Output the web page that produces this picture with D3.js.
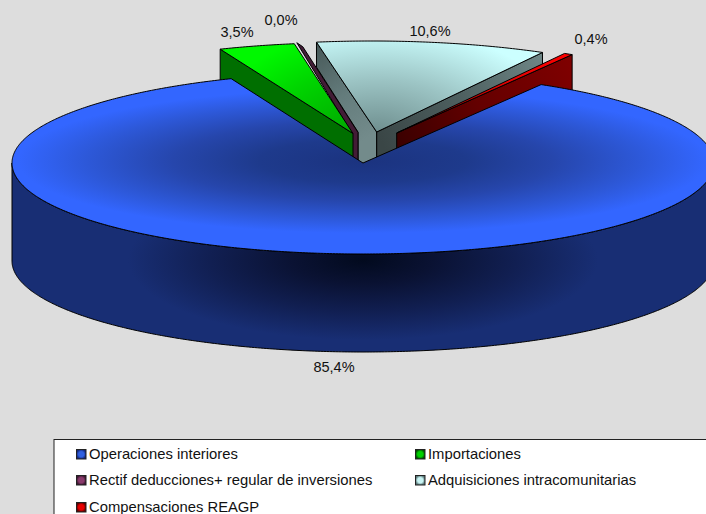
<!DOCTYPE html>
<html><head><meta charset="utf-8">
<script src="https://cdn.jsdelivr.net/npm/d3@7/dist/d3.min.js"></script>
<style>html,body{margin:0;padding:0;background:#ddd}svg{display:block}text{font-family:"Liberation Sans",Arial,sans-serif;fill:#111}</style>
</head><body><div id="chart"></div>
<script>
const categories = ["Operaciones interiores","Importaciones","Rectif deducciones+ regular de inversiones","Adquisiciones intracomunitarias","Compensaciones REAGP"];
const values = [85.4,3.5,0.1,10.6,0.4];
const valueLabels = ["85,4%","3,5%","0,0%","10,6%","0,4%"];

const W=706,H=514,cx=363,cy=163,rx=351,ry=91,depth=98;
const explode=[[0,0],[-11,-29.5],[-8.5,-30.5],[9,-31],[31,-30]];
const apexShift=[0,1,0,4.7,2.7];
const labelPos=[[334,368],[237,33],[281,21],[430,32],[591,40]];
const rad=Math.PI/180;

const svg=d3.select("#chart").append("svg").attr("width",W).attr("height",H);
const defs=svg.append("defs");
svg.append("rect").attr("width",W).attr("height",H).attr("fill","#dddddd");

const arcs=d3.pie().sort(null).value(d=>d).startAngle(30.5*rad).endAngle(390.5*rad)(values);
const pt=(a,i=0,dz=0)=>[cx+explode[i][0]+rx*Math.sin(a),cy+explode[i][1]-ry*Math.cos(a)+dz];
const apex=(i,dz=0)=>[cx+explode[i][0]+apexShift[i],cy+explode[i][1]+dz];
const rim=(a0,a1,i=0,dz=0)=>{const n=Math.max(2,Math.ceil(Math.abs(a1-a0)/(0.5*rad)));return d3.range(n+1).map(k=>pt(a0+(a1-a0)*k/n,i,dz));};
const line=d3.line();
const closed=p=>line(p)+"Z";

function radial(id,c,rX,rY,stops){
  const g=defs.append("radialGradient").attr("id",id).attr("gradientUnits","userSpaceOnUse")
    .attr("cx",0).attr("cy",0).attr("r",1)
    .attr("gradientTransform",`translate(${c[0]},${c[1]}) scale(${rX},${rY})`);
  stops.forEach(s=>g.append("stop").attr("offset",s[0]).attr("stop-color",s[1]));
  return `url(#${id})`;
}
function linear(id,a,b,stops){
  const g=defs.append("linearGradient").attr("id",id).attr("gradientUnits","userSpaceOnUse")
    .attr("x1",a[0]).attr("y1",a[1]).attr("x2",b[0]).attr("y2",b[1]);
  stops.forEach(s=>g.append("stop").attr("offset",s[0]).attr("stop-color",s[1]));
  return `url(#${id})`;
}
const draw=(d,fill)=>svg.append("path").attr("d",d).attr("fill",fill).attr("stroke","#000").attr("stroke-width",1).attr("stroke-linejoin","round");

/* Adquisiciones (index 3) */
{
  const i=3,a=arcs[i],A=apex(i),R0=pt(a.startAngle,i),R1=pt(a.endAngle,i);
  const notchX=cx-5;
  draw(closed([R0,[R0[0],R0[1]+25],[notchX,A[1]],[notchX,A[1]+depth],apex(i,depth),A]),
    linear("gwl",R0,A,[[0,"#465757"],[0.55,"#647c7c"],[1,"#738b8b"]]));
  draw(closed([A,R1,pt(a.endAngle,i,depth),apex(i,depth)]),
    linear("gwr",A,R1,[[0,"#3a4646"],[0.5,"#4e6060"],[1,"#6f8787"]]));
  draw(closed([A,...rim(a.startAngle,a.endAngle,i)]),
    radial("gtop",A,190,105,[[0,"#6f8f8f"],[0.5,"#9cc4c4"],[1,"#ccffff"]]));
}
/* Compensaciones (index 4) */
{
  const i=4,a=arcs[i],A=apex(i),R1=pt(a.endAngle,i);
  draw(closed([A,R1,pt(a.endAngle,i,depth),apex(i,depth)]),
    linear("rw",A,R1,[[0,"#3c0000"],[0.45,"#640000"],[1,"#800000"]]));
  draw(closed([A,...rim(a.startAngle,a.endAngle,i)]),
    linear("rt",A,R1,[[0,"#800000"],[0.6,"#e00000"],[1,"#ff0000"]]));
}
/* Rectif (index 2) */
{
  const i=2,a=arcs[i],A=apex(i),R=pt(a.startAngle,i);
  draw(closed([R,[R[0]+6,R[1]+4],[A[0]+3.5,A[1]],[A[0]+3.5,A[1]+depth],[A[0]-3,A[1]+depth],[A[0]-3,A[1]]]),"#431c36");
}
/* Importaciones (index 1) */
{
  const i=1,a=arcs[i],A=apex(i),R0=pt(a.startAngle,i);
  draw(closed([R0,A,apex(i,depth),pt(a.startAngle,i,depth)]),"#006f00");
  draw(closed([A,...rim(a.startAngle,a.endAngle,i)]),
    radial("grt",A,140,100,[[0,"#00a800"],[0.6,"#00d400"],[1,"#00f800"]]));
}
/* Operaciones (index 0) */
{
  const a=arcs[0];
  const front=rim(90*rad,270*rad);
  const back=rim(270*rad,90*rad,0,depth);
  draw(closed([...front,...back]),
    radial("bw",[cx,cy+97],235,80,[[0,"#020a1e"],[0.3,"#0a1233"],[0.65,"#111f52"],[1,"#182e74"]]));
  draw(closed([[cx,cy],...rim(a.startAngle,a.endAngle)]),
    radial("bt",[cx,cy-2],345,72,[[0,"#1b337f"],[0.3,"#1e3a8c"],[0.55,"#2646ac"],[0.8,"#2d58d8"],[1,"#3366ff"]]));
}
/* value labels */
svg.append("g").selectAll("text").data(valueLabels).join("text")
  .attr("x",(d,i)=>labelPos[i][0]).attr("y",(d,i)=>labelPos[i][1])
  .attr("text-anchor","middle").attr("dominant-baseline","middle")
  .attr("font-size",14.5).text(d=>d);

/* legend */
const legendSwatch=[["#3060e0","#14287a"],["#00d000","#005000"],["#8a3a6c","#3c1830"],["#c8f4f4","#5a7878"],["#e80000","#600000"]];
const legendPos=[[76,455],[415,455],[76,481],[415,481],[76,508]];
svg.append("rect").attr("x",54).attr("y",439.5).attr("width",W).attr("height",H).attr("fill","#fff").attr("stroke","#222");
legendSwatch.forEach((c,i)=>{
  const g=defs.append("radialGradient").attr("id","sw"+i);
  g.append("stop").attr("offset",0.55).attr("stop-color",c[0]);
  g.append("stop").attr("offset",1).attr("stop-color",c[1]);
});
const lg=svg.append("g").selectAll("g").data(categories).join("g")
  .attr("transform",(d,i)=>`translate(${legendPos[i][0]},${legendPos[i][1]})`);
lg.append("rect").attr("x",0.5).attr("y",-5.5).attr("width",9.5).attr("height",9.5)
  .attr("fill",(d,i)=>`url(#sw${i})`).attr("stroke","#222").attr("stroke-width",1);
lg.append("text").attr("x",13).attr("dominant-baseline","middle").attr("font-size",14.8).text(d=>d);
</script></body></html>
